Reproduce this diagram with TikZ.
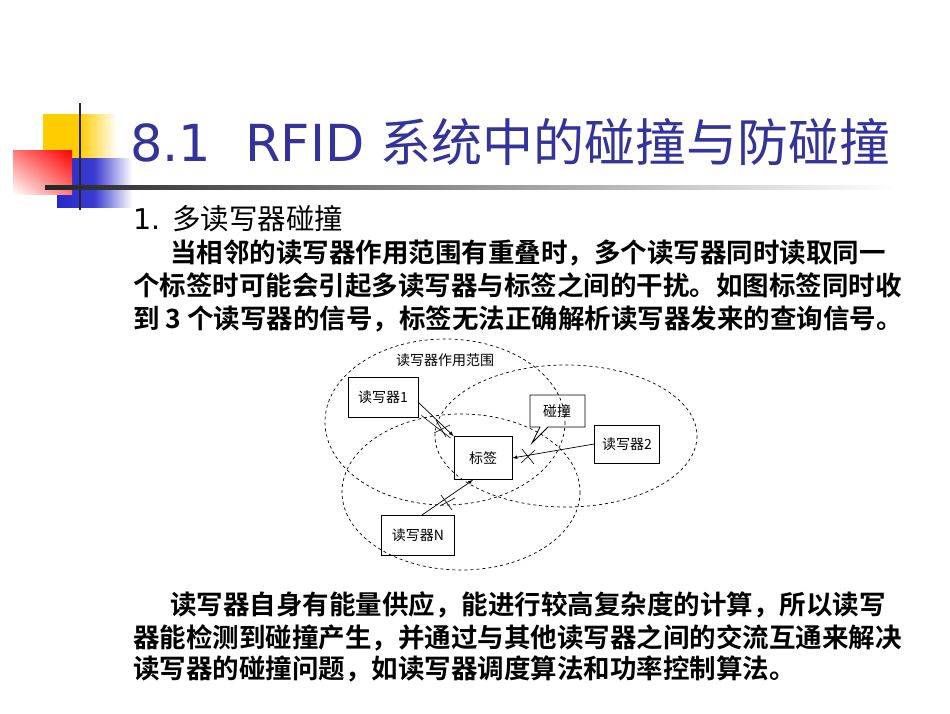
\documentclass[tikz,border=0pt]{standalone}
\usepackage{fontspec}
\usetikzlibrary{shadings}
\setmainfont{DejaVu Sans}
\newfontfamily\cjk{Noto Sans CJK SC}
\newfontfamily\cjkb{Noto Sans CJK SC Bold}
\definecolor{titleblue}{HTML}{333399}
\begin{document}
\begin{tikzpicture}[x=1pt,y=-1pt,
  box/.style={draw,line width=0.8pt,inner sep=0pt,font=\cjk\fontsize{14}{14}\selectfont},
  ell/.style={draw,dashed,line width=0.7pt},
  sig/.style={line width=0.7pt,-latex},
  para/.style={anchor=base west,inner sep=0pt,font=\cjkb\fontsize{26.5}{28}\selectfont}]
\useasboundingbox (0,0) rectangle (950,713);
\fill[white] (0,0) rectangle (950,713);
% decoration
\shade[left color={rgb,255:red,255;green,204;blue,0}, right color=white, middle color={rgb,255:red,255;green,204;blue,0}] (43,114) rectangle (117,158);
\shade[left color={rgb,255:red,40;green,40;blue,200}, right color=white, middle color={rgb,255:red,60;green,60;blue,210}] (57,158) rectangle (132,207);
\shade[upper right=red, lower left=white, upper left={rgb,255:red,255;green,120;blue,120}, lower right={rgb,255:red,255;green,120;blue,120}] (13,150) rectangle (72,194);
\draw[line width=2.5pt,black!85] (80,103) -- (80,210);
\shade[left color=black!85,right color=white] (45,185.5) rectangle (895,189);
% title
\node[anchor=base west,inner sep=0,text=titleblue,font=\fontsize{51}{51}\selectfont] (title) at (130,161) {8.1\hspace{0.35em} RFID {\cjk 系统中的碰撞与防碰撞}};
\node[anchor=base west,inner sep=0,font=\fontsize{28.5}{28}\selectfont] (h1) at (133,229) {1. {\cjk 多读写器碰撞}};
\node[para] (p1) at (170,262) {当相邻的读写器作用范围有重叠时，多个读写器同时读取同一};
\node[para] (p2) at (133,295) {个标签时可能会引起多读写器与标签之间的干扰。如图标签同时收};
\node[para] (p3) at (133,328) {到 3 个读写器的信号，标签无法正确解析读写器发来的查询信号。};
\node[para] (q1) at (170,614) {读写器自身有能量供应，能进行较高复杂度的计算，所以读写};
\node[para] (q2) at (133,647) {器能检测到碰撞产生，并通过与其他读写器之间的交流互通来解决};
\node[para] (q3) at (133,678) {读写器的碰撞问题，如读写器调度算法和功率控制算法。};
% diagram
\draw[ell] (445,422) ellipse [x radius=120,y radius=83];
\draw[ell] (566,436) ellipse [x radius=131,y radius=71];
\draw[ell] (461,492) ellipse [x radius=119,y radius=78];
\node[inner sep=0,font=\cjk\fontsize{14}{14}\selectfont] (lab) at (445,360) {读写器作用范围};
\node[box,minimum width=70,minimum height=40] (r1) at (383,397) {读写器1};
\node[box,minimum width=58,minimum height=43] (tag) at (483,458) {标签};
\node[box,minimum width=65,minimum height=38] (r2) at (627,444) {读写器2};
\node[box,minimum width=73,minimum height=40] (rN) at (418,535) {读写器{\itshape N}};
\node[inner sep=0,font=\cjk\fontsize{14}{14}\selectfont] (coll) at (557,411) {碰撞};
\draw[line width=0.8pt] (530,395) -- (585,395) -- (585,427) -- (548,427) -- (532,443) -- (540,427) -- (530,427) -- cycle;
\coordinate (a1) at (418,402);
\draw[sig] (a1) -- (tag.north west);
\draw[line width=0.6pt] (r1.south east) ++(3,-2) -- ([xshift=-3pt,yshift=-2pt]tag.north west);
\draw[sig] (r2.west) -- (tag.east);
\coordinate (aN) at (422,515);
\draw[sig] (aN) -- ([xshift=-10pt]tag.south);
\draw[line width=0.6pt] (436,420) -- (446,437) (434,433) -- (450,425);
\draw[line width=0.6pt] (522,449) -- (534,464) (521,463) -- (535,450);
\draw[line width=0.6pt] (441,495) -- (452,510) (440,506) -- (455,498);
\end{tikzpicture}
\end{document}
